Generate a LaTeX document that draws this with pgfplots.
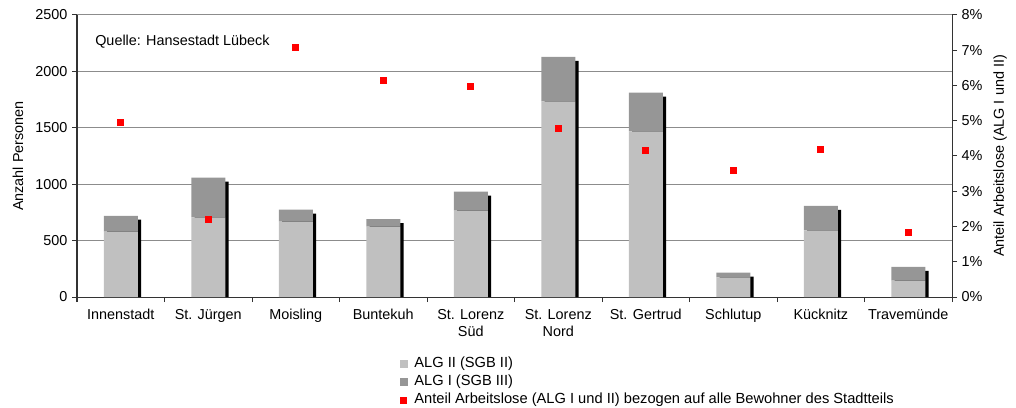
\documentclass[border=0pt]{standalone}
\usepackage{fontspec}
\setmainfont{Liberation Sans}
\usepackage{pgfplots}
\usepackage{pgfplotstable}
\pgfplotsset{compat=1.18}
\definecolor{algII}{HTML}{C0C0C0}
\definecolor{algI}{HTML}{969696}
\definecolor{axdark}{HTML}{333333}
\definecolor{gridgray}{HTML}{8C8C8C}

% x: district, alg2/alg1: persons, quote: share of unemployed in %
\pgfplotstableread{
x alg2 alg1 quote
1  580 140 4.97
2  706 352 2.21
3  668 106 7.09
4  623  68 6.15
5  765 169 5.99
6 1735 393 4.79
7 1469 342 4.16
8  175  40 3.60
9  591 216 4.20
10 145 121 1.85
}\data

\pgfplotsset{
 base/.style={
  scale only axis,width=656.25pt,height=211.5pt,
  at={(57.75pt,82.5pt)},anchor=south west,
  xmin=0.5,xmax=10.5,
  font=\fontsize{10.8}{12.8}\selectfont,
  /pgf/number format/assume math mode=true,
  /pgf/number format/1000 sep={},
  tick align=outside,major tick length=3.75pt,
  tick style={axdark,line width=0.75pt},
  axis line style={axdark,line width=0.75pt,-},
 }
}

\begin{document}
\begin{tikzpicture}
\useasboundingbox (0,0) rectangle (762pt,305.25pt);
% grid and bar shadows
\begin{axis}[base,ymin=0,ymax=2500,
 axis line style={draw=none},tick style={draw=none},
 ytick={500,1000,...,2500},yticklabels={},xtick=\empty,
 ymajorgrids,major grid style={gridgray,line width=0.75pt}]
\addplot[ybar,bar width=25.5pt,bar shift=2.5pt,fill=black,draw=none]
 table[x=x,y expr=\thisrow{alg2}+\thisrow{alg1}-35]{\data};
\end{axis}
% stacked bars, left axis
\begin{axis}[base,ymin=0,ymax=2500,ybar stacked,bar width=25.5pt,
 axis x line*=bottom,axis y line*=left,
 ytick={0,500,...,2500},
 xtick={0.5,1.5,...,10.5},x tick label as interval,
 xticklabels={Innenstadt,St. Jürgen,Moisling,Buntekuh,St. Lorenz\\Süd,St. Lorenz\\Nord,St. Gertrud,Schlutup,Kücknitz,Travemünde},
 xticklabel style={align=center,yshift=-2pt},
 ylabel={Anzahl Personen},
 ylabel style={at={(axis description cs:-0.0674,0.5)},anchor=center}]
\addplot[fill=algII,draw=none] table[x=x,y=alg2]{\data};
\addplot[fill=algI,draw=none] table[x=x,y=alg1]{\data};
\node[anchor=west,inner sep=0pt] at (rel axis cs:0.0206,0.904) {Quelle: Hansestadt Lübeck};
\end{axis}
% share of unemployed, right axis
\begin{axis}[base,ymin=0,ymax=8,
 axis x line=none,axis y line*=right,
 ytick={0,1,...,8},yticklabel={\pgfmathprintnumber{\tick}\%},
 ylabel={Anteil Arbeitslose (ALG I und II)},
 ylabel style={at={(axis description cs:1.0549,0.5)},anchor=center},
 legend style={at={(axis description cs:0.369,-0.205)},anchor=north west,
  draw=none,fill=none,inner sep=0pt,row sep=0pt,font=\fontsize{11}{13}\selectfont,
  nodes={inner sep=1.5pt,text height=8pt,text depth=2.5pt}},
 legend cell align=left]
\addlegendimage{legend image code/.code={\fill[algII] (0pt,-2.6pt) rectangle (5.2pt,2.6pt);\path[draw=none] (0pt,0pt) -- (9pt,0pt);}}
\addlegendentry{ALG II (SGB II)}
\addlegendimage{legend image code/.code={\fill[algI] (0pt,-2.6pt) rectangle (5.2pt,2.6pt);\path[draw=none] (0pt,0pt) -- (9pt,0pt);}}
\addlegendentry{ALG I (SGB III)}
\addplot[only marks,mark=square*,mark size=2.25pt,red,
 legend image code/.code={\fill[red] (0pt,-2.3pt) rectangle (4.6pt,2.3pt);\path[draw=none] (0pt,0pt) -- (9pt,0pt);}]
 table[x=x,y=quote]{\data};
\addlegendentry{Anteil Arbeitslose (ALG I und II) bezogen auf alle Bewohner des Stadtteils}
\end{axis}
\end{tikzpicture}
\end{document}
